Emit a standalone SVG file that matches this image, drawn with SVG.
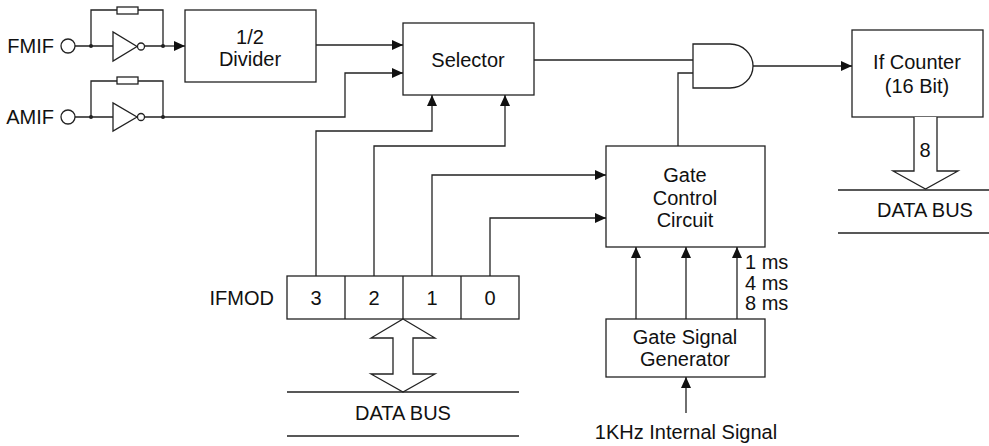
<svg xmlns="http://www.w3.org/2000/svg" width="989" height="446" viewBox="0 0 989 446">
<style>
.b{fill:#fff;stroke:#222;stroke-width:1.3}
.w{fill:none;stroke:#222;stroke-width:1.3}
.a{fill:none;stroke:#222;stroke-width:1.3;marker-end:url(#ah)}
text{font-family:"Liberation Sans",Arial,sans-serif;font-size:20px;fill:#111;text-anchor:middle}
.d{fill:#222}
</style>
<defs>
<marker id="ah" markerUnits="userSpaceOnUse" markerWidth="12" markerHeight="10" refX="11" refY="5" orient="auto">
<path d="M0,0 L11,5 L0,10 z" fill="#111"/>
</marker>
</defs>
<rect width="989" height="446" fill="#fff"/>

<g id="fmif">
<text x="54" y="53" style="text-anchor:end">FMIF</text>
<circle cx="68" cy="46" r="7" class="b"/>
<path class="w" d="M75,46 H113 M145,46 H163 M91,46 V10 H117 M138,10 H163 V46"/>
<rect x="117" y="7" width="21" height="7" class="b"/>
<path class="b" d="M113,32 L113,61 L137,46.5 z"/>
<circle cx="141" cy="46.5" r="3.5" class="b"/>
<circle cx="91" cy="46" r="2" class="d"/>
<circle cx="163" cy="46" r="2" class="d"/>
</g>

<g id="amif">
<text x="54" y="124" style="text-anchor:end">AMIF</text>
<circle cx="68" cy="117" r="7" class="b"/>
<path class="w" d="M75,117 H113 M145,117 H163 M91,117 V81 H117 M138,81 H163 V117"/>
<rect x="117" y="77" width="21" height="7" class="b"/>
<path class="b" d="M113,103 L113,131 L137,117 z"/>
<circle cx="141" cy="117" r="3.5" class="b"/>
<circle cx="91" cy="117" r="2" class="d"/>
<circle cx="163" cy="117" r="2" class="d"/>
</g>

<g id="divider">
<rect x="185" y="10" width="131" height="72" class="b"/>
<text x="250" y="44">1/2</text>
<text x="250" y="66">Divider</text>
</g>

<g id="selector">
<rect x="403" y="23" width="131" height="72" class="b"/>
<text x="468" y="67">Selector</text>
</g>

<g id="andgate">
<path class="b" d="M693,44 H730 A23,22 0 0 1 730,88 H693 z"/>
</g>

<g id="counter">
<rect x="852" y="30" width="131" height="87" class="b"/>
<text x="917" y="69">If Counter</text>
<text x="917" y="93">(16 Bit)</text>
</g>

<g id="gatecontrol">
<rect x="606" y="146" width="159" height="101" class="b"/>
<text x="685" y="182">Gate</text>
<text x="685" y="205">Control</text>
<text x="685" y="227">Circuit</text>
</g>

<g id="gatesignal">
<rect x="606" y="319" width="159" height="58" class="b"/>
<text x="685" y="344">Gate Signal</text>
<text x="685" y="366">Generator</text>
</g>

<g id="ifmod">
<text x="274" y="305" style="text-anchor:end">IFMOD</text>
<rect x="287" y="276" width="232" height="43" class="b"/>
<path class="w" d="M345,276 V319 M403,276 V319 M461,276 V319"/>
<text x="316" y="305">3</text>
<text x="374" y="305">2</text>
<text x="432" y="305">1</text>
<text x="490" y="305">0</text>
</g>

<g id="bus1">
<path class="b" d="M403,319 L435,338 H413 V374 H435 L403,392 L371,374 H393 V338 H371 z"/>
<path class="w" d="M287,392 H519 M287,436 H519"/>
<text x="403" y="420">DATA BUS</text>
</g>

<g id="bus2">
<path class="b" d="M914,117 V171 H893 L925.5,189 L958,171 H937 V117"/>
<text x="925" y="157">8</text>
<path class="w" d="M838,190 H989 M838,233 H989"/>
<text x="925" y="217">DATA BUS</text>
</g>

<g id="connectors">
<path class="a" d="M163,46 H185"/>
<path class="a" d="M316,45 H403"/>
<path class="a" d="M163,117 H345 V73 H403"/>
<path class="w" d="M534,60 H693"/>
<path class="w" d="M678,146 V73 H693"/>
<path class="a" d="M753,66 H852"/>
<path class="a" d="M316,276 V131 H432 V95"/>
<path class="a" d="M374,276 V146 H505 V95"/>
<path class="a" d="M432,276 V175 H606"/>
<path class="a" d="M490,276 V218 H606"/>
<path class="a" d="M636,319 V247"/>
<path class="a" d="M686,319 V247"/>
<path class="a" d="M737,319 V247"/>
<path class="a" d="M686,413 V377"/>
</g>

<g id="labels">
<text x="745" y="269" style="text-anchor:start">1 ms</text>
<text x="745" y="290" style="text-anchor:start">4 ms</text>
<text x="745" y="310" style="text-anchor:start">8 ms</text>
<text x="686" y="439">1KHz Internal Signal</text>
</g>
</svg>
